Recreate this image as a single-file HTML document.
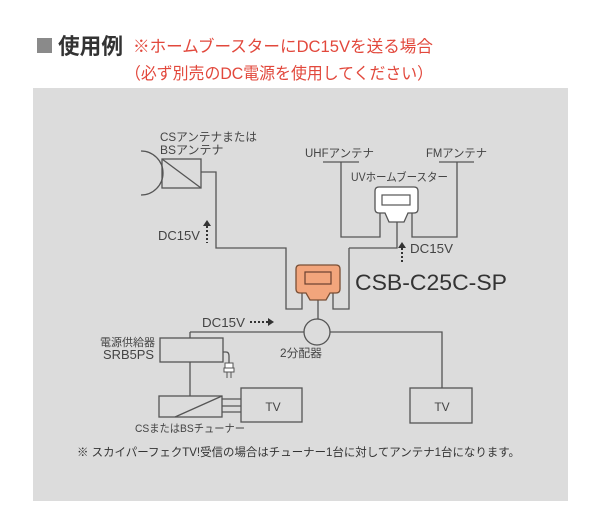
<!DOCTYPE html>
<html><head><meta charset="utf-8">
<style>
html,body{margin:0;padding:0;background:#fff;}
body{width:600px;height:528px;overflow:hidden;}
svg{display:block;}
text{font-family:"Liberation Sans","Noto Sans CJK JP",sans-serif;}
</style></head>
<body>
<svg width="600" height="528" viewBox="0 0 600 528" xmlns="http://www.w3.org/2000/svg">
<rect x="0" y="0" width="600" height="528" fill="#ffffff"/>
<!-- title -->
<rect x="37" y="38" width="15" height="15" fill="#8a8a8a"/>
<text x="58" y="54" font-size="22" font-weight="bold" fill="#333" textLength="65" lengthAdjust="spacingAndGlyphs">使用例</text>
<text x="133" y="52" font-size="16.5" fill="#e2483c" textLength="300" lengthAdjust="spacingAndGlyphs">※ホームブースターにDC15Vを送る場合</text>
<text x="125" y="79" font-size="16.5" fill="#e2483c" textLength="308" lengthAdjust="spacingAndGlyphs">（必ず別売のDC電源を使用してください）</text>
<!-- panel -->
<rect x="33" y="88" width="535" height="413" fill="#dcdcdc"/>

<g fill="none" stroke="#555" stroke-width="1.3">
  <!-- CS/BS antenna -->
  <path d="M141,151 A22,22 0 0 1 141,195"/>
  <rect x="162" y="159" width="39" height="29"/>
  <path d="M162,159 L201,188"/>
  <path d="M201,172 H216 V248 H286 V309 H302 V293"/>
  <path d="M349,248 V309 H333 V293"/>
  <path d="M349,248 H397 V222"/>
  <!-- UHF -->
  <path d="M323,162 H359"/>
  <path d="M341,162 V237 H380 V213"/>
  <!-- FM -->
  <path d="M439,162 H474"/>
  <path d="M457,162 V237 H412 V213"/>
  <!-- splitter -->
  <circle cx="317" cy="332" r="13"/>
  <path d="M318,300 V319"/>
  <path d="M190,332 H304"/>
  <path d="M330,332 H442 V388"/>
  <!-- power supply -->
  <path d="M190,332 V338"/>
  <rect x="160" y="338" width="63" height="24"/>
  <path d="M190,362 V396"/>
  <!-- tuner -->
  <rect x="159" y="396" width="63" height="21"/>
  <path d="M175,417 L222,396"/>
  <path d="M222,399 H241 M222,406 H241 M222,412 H241"/>
  <!-- TVs -->
  <rect x="241" y="388" width="61" height="34"/>
  <rect x="410" y="388" width="62" height="35"/>
  <!-- plug cord -->
  <path d="M223,352 H226 Q229,352 229,356 V363"/>
</g>
<!-- plug -->
<g fill="#fff" stroke="#555" stroke-width="1">
  <rect x="225" y="363" width="8" height="5"/>
  <rect x="224" y="368" width="10" height="4"/>
  <path d="M227,372 V378 M231,372 V378" fill="none"/>
</g>

<!-- white booster -->
<path d="M379,187 H414 Q418,187 418,191 V209 Q418,213 414,213 H408 L404,222 H389 L385,213 H379 Q375,213 375,209 V191 Q375,187 379,187 Z" fill="#ffffff" stroke="#555" stroke-width="1.3"/>
<rect x="382" y="195" width="28" height="10" fill="#fff" stroke="#555" stroke-width="1.2"/>

<!-- orange device -->
<path d="M300,265 H336 Q340,265 340,269 V289 Q340,293 336,293 H330 L326,300 H310 L306,293 H300 Q296,293 296,289 V269 Q296,265 300,265 Z" fill="#f2a57c" stroke="#7a4f35" stroke-width="1.3"/>
<rect x="305" y="272" width="26" height="12" fill="#f2a57c" stroke="#6a4030" stroke-width="1.2"/>

<!-- dotted arrows -->
<g stroke="#333" stroke-width="2" stroke-dasharray="2,2" fill="none">
  <path d="M207,226 V243"/>
  <path d="M402,248 V263"/>
  <path d="M250,322 H268"/>
</g>
<g fill="#333">
  <path d="M203,226 L207,220 L211,226 Z"/>
  <path d="M398,248 L402,242 L406,248 Z"/>
  <path d="M268,318 L274,322 L268,326 Z"/>
</g>

<!-- labels -->
<g fill="#444">
  <text x="160" y="141" font-size="12" textLength="97" lengthAdjust="spacingAndGlyphs">CSアンテナまたは</text>
  <text x="160" y="154" font-size="12">BSアンテナ</text>
  <text x="158" y="240" font-size="13" textLength="42" lengthAdjust="spacingAndGlyphs">DC15V</text>
  <text x="305" y="157" font-size="11.5" textLength="69" lengthAdjust="spacingAndGlyphs">UHFアンテナ</text>
  <text x="426" y="157" font-size="11.5" textLength="61" lengthAdjust="spacingAndGlyphs">FMアンテナ</text>
  <text x="351" y="181" font-size="11.5" textLength="97" lengthAdjust="spacingAndGlyphs">UVホームブースター</text>
  <text x="410" y="253" font-size="13" textLength="43" lengthAdjust="spacingAndGlyphs">DC15V</text>
  <text x="355" y="290" font-size="22" fill="#333" textLength="152" lengthAdjust="spacingAndGlyphs">CSB-C25C-SP</text>
  <text x="202" y="327" font-size="13" textLength="43" lengthAdjust="spacingAndGlyphs">DC15V</text>
  <text x="100" y="346" font-size="11" textLength="55" lengthAdjust="spacingAndGlyphs">電源供給器</text>
  <text x="103" y="359" font-size="12.5" textLength="51" lengthAdjust="spacingAndGlyphs">SRB5PS</text>
  <text x="280" y="357" font-size="11.5" textLength="42" lengthAdjust="spacingAndGlyphs">2分配器</text>
  <text x="273" y="411" font-size="12" text-anchor="middle">TV</text>
  <text x="442" y="411" font-size="12" text-anchor="middle">TV</text>
  <text x="135" y="432" font-size="11" textLength="110" lengthAdjust="spacingAndGlyphs">CSまたはBSチューナー</text>
  <text x="77" y="456" font-size="11.5" fill="#333" textLength="443" lengthAdjust="spacingAndGlyphs">※ スカイパーフェクTV!受信の場合はチューナー1台に対してアンテナ1台になります。</text>
</g>
</svg>
</body></html>
